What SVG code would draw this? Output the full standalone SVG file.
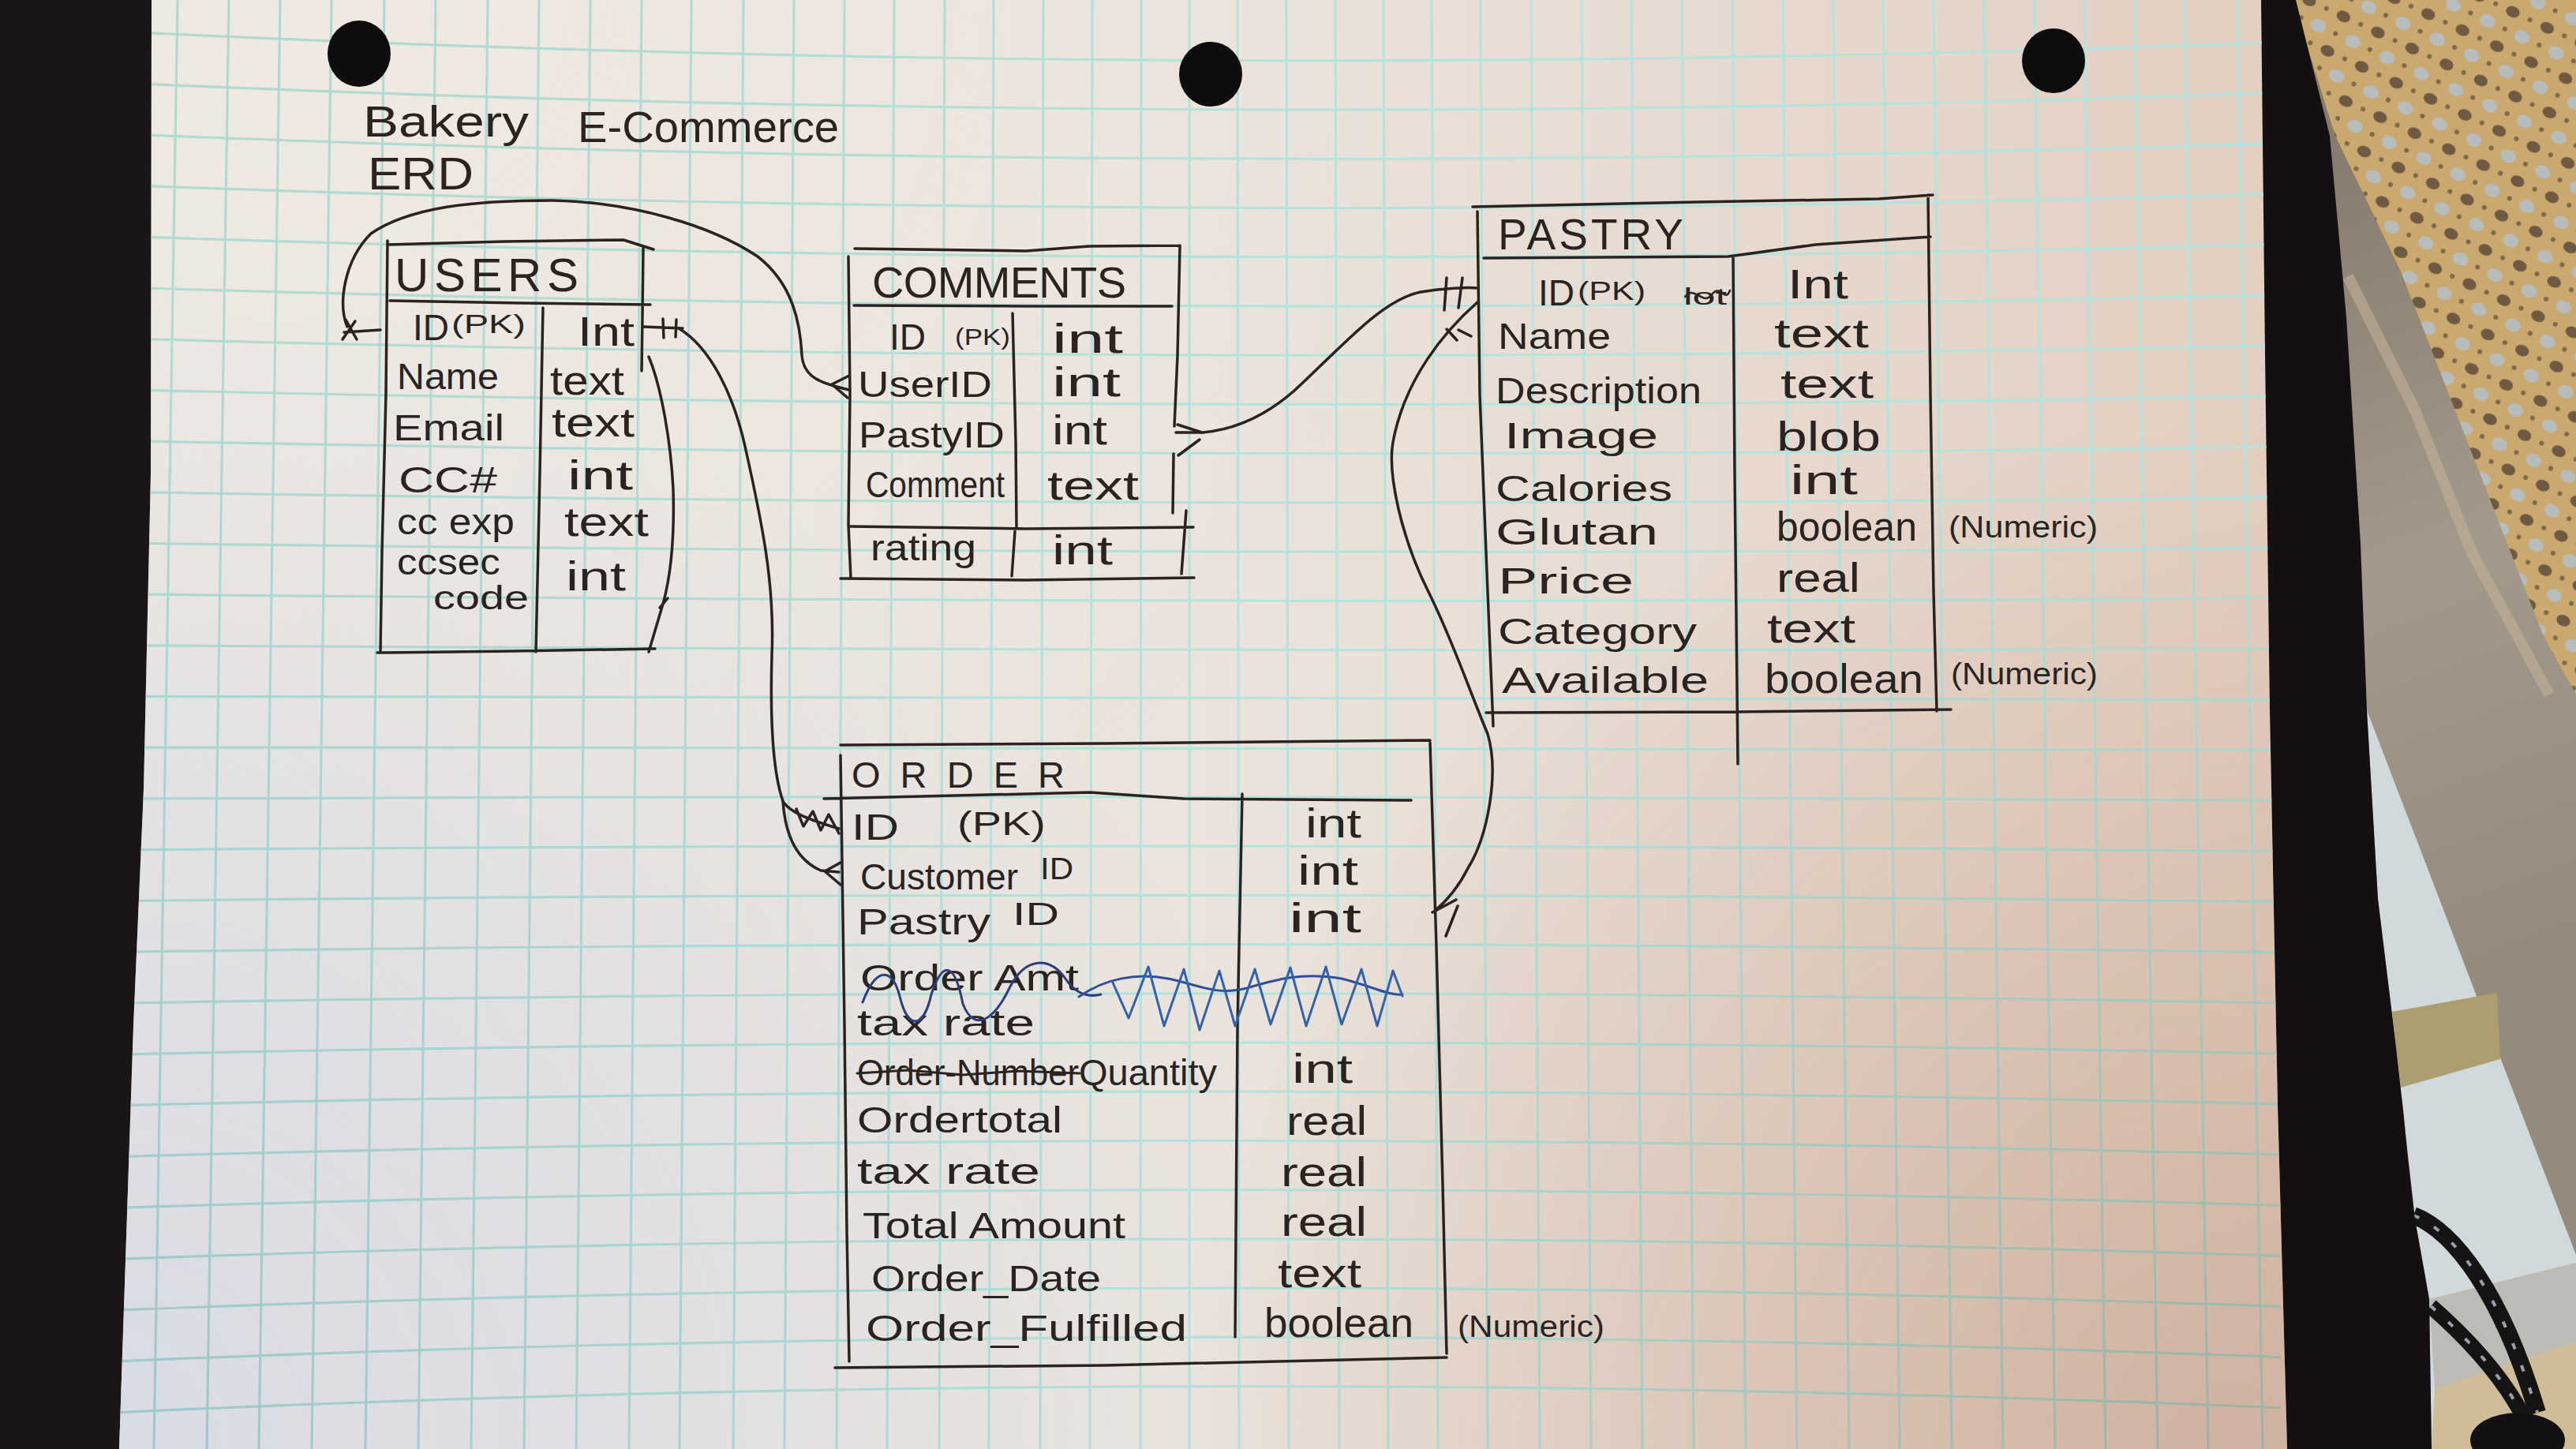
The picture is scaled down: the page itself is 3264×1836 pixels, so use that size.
<svg xmlns="http://www.w3.org/2000/svg" width="3264" height="1836" viewBox="0 0 3264 1836">
<defs>
<style>
.ink{fill:none;stroke:#2a231f;stroke-width:3.5;stroke-linecap:round;stroke-linejoin:round}
.t{font-family:"Liberation Sans",Arial,sans-serif;font-size:46px;fill:#2a231f}
.ty{font-family:"Liberation Sans",Arial,sans-serif;font-size:52px;fill:#2a231f}
.h{font-family:"Liberation Sans",Arial,sans-serif;font-size:58px;fill:#2a231f}
.n{font-family:"Liberation Sans",Arial,sans-serif;font-size:38px;fill:#2a231f}
.grid{fill:none;stroke:#b6e4dc;stroke-width:3.2}
.blue{fill:none;stroke-width:3;stroke-linecap:round;stroke-linejoin:round}
</style>
<linearGradient id="pg" x1="151" y1="0" x2="2898" y2="0" gradientUnits="userSpaceOnUse">
<stop offset="0" stop-color="#ebe7e3"/>
<stop offset="0.5" stop-color="#ebe4dd"/>
<stop offset="1" stop-color="#e3cfc1"/>
</linearGradient>
<radialGradient id="cool" cx="151" cy="1836" r="1500" gradientUnits="userSpaceOnUse">
<stop offset="0" stop-color="#d6d9e4" stop-opacity="0.85"/>
<stop offset="1" stop-color="#d6d9e4" stop-opacity="0"/>
</radialGradient>
<radialGradient id="warm" cx="2800" cy="1836" r="1300" gradientUnits="userSpaceOnUse">
<stop offset="0" stop-color="#c09a86" stop-opacity="0.55"/>
<stop offset="1" stop-color="#c09a86" stop-opacity="0"/>
</radialGradient>
<radialGradient id="bright" cx="400" cy="0" r="1400" gradientUnits="userSpaceOnUse">
<stop offset="0" stop-color="#f2ebe3" stop-opacity="0.6"/>
<stop offset="1" stop-color="#f2ebe3" stop-opacity="0"/>
</radialGradient>
<linearGradient id="metal" x1="2900" y1="200" x2="3264" y2="1200" gradientUnits="userSpaceOnUse">
<stop offset="0" stop-color="#867b6c"/>
<stop offset="0.5" stop-color="#a39a8b"/>
<stop offset="1" stop-color="#948b7d"/>
</linearGradient>
<pattern id="cane" width="48" height="48" patternUnits="userSpaceOnUse" patternTransform="rotate(25)">
<rect width="48" height="48" fill="#cba86e"/>
<ellipse cx="12" cy="12" rx="9" ry="7" fill="#6e5a43"/>
<ellipse cx="36" cy="36" rx="10" ry="8" fill="#b7bdbd"/>
<circle cx="36" cy="12" r="3" fill="#7d6849"/>
<circle cx="12" cy="36" r="3" fill="#7d6849"/>
</pattern>
<clipPath id="paperclip">
<path d="M192 0L2865 0L2870 450L2876 900L2886 1400L2898 1836L151 1836L169 1300L182 1000L191 600Z"/>
</clipPath>
</defs>

<g id="background">
<rect x="0" y="0" width="3264" height="1836" fill="#1a1516"/>
<rect x="2880" y="0" width="384" height="1836" fill="url(#metal)"/>
<path d="M2905 0L3264 0L3264 880L3222 804L3132 574L3042 344L2959 172Z" fill="url(#cane)"/>
<path d="M2975 350L3060 520L3132 700L3230 880" fill="none" stroke="#c2b59c" stroke-width="14" opacity="0.55"/>
<path d="M2999 900L3264 1590L3264 1836L3081 1836L3078 1646L3060 1545L3045 1407L3013 1139Z" fill="#d0d9db"/>
<path d="M3031 1282L3164 1258L3168 1342L3042 1378Z" fill="#ad9e70"/>
<path d="M3078 1646L3264 1600L3264 1700L3085 1760Z" fill="#bdbbb5"/>
<path d="M3085 1760L3264 1700L3264 1836L3081 1836Z" fill="#cfbd97"/>
<path d="M3058 1540C3110 1560 3170 1640 3215 1790" fill="none" stroke="#151313" stroke-width="22"/>
<path d="M3058 1540C3110 1560 3170 1640 3215 1790" fill="none" stroke="#9aa0a8" stroke-width="4" stroke-dasharray="8 22"/>
<path d="M3080 1655C3120 1690 3170 1740 3200 1800" fill="none" stroke="#151313" stroke-width="20"/>
<path d="M3080 1655C3120 1690 3170 1740 3200 1800" fill="none" stroke="#9aa0a8" stroke-width="4" stroke-dasharray="8 22"/>
<ellipse cx="3190" cy="1825" rx="60" ry="35" fill="#121011"/>
<path d="M2860 0L2909 0L2952 172L2973 402L2991 689L2999 900L3013 1139L3035 1318L3045 1407L3051 1467L3060 1545L3078 1646L3081 1836L2880 1836Z" fill="#141011"/>
</g>

<g id="paper">
<path d="M192 0L2865 0L2870 450L2876 900L2886 1400L2898 1836L151 1836L169 1300L182 1000L191 600Z" fill="url(#pg)"/>
<g clip-path="url(#paperclip)">
<rect x="140" y="0" width="2770" height="1836" fill="url(#bright)"/>
<rect x="140" y="0" width="2770" height="1836" fill="url(#cool)"/>
<rect x="140" y="0" width="2770" height="1836" fill="url(#warm)"/>
<g style="mix-blend-mode:multiply">
<path class="grid" d="M225 0L195 1836M290 0L262 1836M355 0L328 1836M420 0L395 1836M487 0L463 1836M552 0L530 1836M618 0L597 1836M683 0L664 1836M748 0L730 1836M813 0L797 1836M876 0L861 1836M942 0L929 1836M1006 0L994 1836M1070 0L1060 1836M1133 0L1124 1836M1197 0L1190 1836M1259 0L1253 1836M1322 0L1318 1836M1384 0L1381 1836M1446 0L1445 1836M1507 0L1507 1836M1568 0L1570 1836M1630 0L1633 1836M1692 0L1697 1836M1753 0L1759 1836M1814 0L1822 1836M1876 0L1885 1836M1940 0L1951 1836M2004 0L2016 1836M2067 0L2081 1836M2131 0L2146 1836M2195 0L2212 1836M2259 0L2277 1836M2323 0L2343 1836M2386 0L2407 1836M2450 0L2473 1836M2514 0L2538 1836M2578 0L2604 1836M2641 0L2668 1836M2705 0L2734 1836M2768 0L2798 1836M2835 0L2867 1836"/>
<path class="grid" d="M150 40Q1520 106.5 2890 53M150 104.8Q1520 166.5 2890 117.1M150 169.6Q1520 226.5 2890 181.2M150 234.4Q1520 286.5 2890 245.3M150 299.2Q1520 346.5 2890 309.4M150 364Q1520 406.5 2890 373.5M150 428.8Q1520 466.5 2890 437.6M150 493.6Q1520 526.5 2890 501.7M150 558.4Q1520 586.5 2890 565.8M150 623.2Q1520 646.5 2890 629.9M150 688Q1520 706.5 2890 694M150 752.8Q1520 766.5 2890 758.1M150 817.6Q1520 826.5 2890 822.2M150 882.4Q1520 886.5 2890 886.3M150 947.2Q1520 946.5 2890 950.4M150 1012Q1520 1006.5 2890 1014.5M150 1076.8Q1520 1066.5 2890 1078.6M150 1141.6Q1520 1126.5 2890 1142.7M150 1206.4Q1520 1186.5 2890 1206.8M150 1271.2Q1520 1246.5 2890 1270.9M150 1336Q1520 1306.5 2890 1335M150 1400.8Q1520 1366.5 2890 1399.1M150 1465.6Q1520 1426.5 2890 1463.2M150 1530.4Q1520 1486.5 2890 1527.3M150 1595.2Q1520 1546.5 2890 1591.4M150 1660Q1520 1606.5 2890 1655.5M150 1724.8Q1520 1666.5 2890 1719.6M150 1789.6Q1520 1726.5 2890 1783.7"/>
</g>
</g>
<ellipse cx="455" cy="68" rx="40" ry="42" fill="#0e0c0c"/>
<ellipse cx="1534" cy="94" rx="40" ry="41" fill="#0e0c0c"/>
<ellipse cx="2602" cy="77" rx="40" ry="41" fill="#0e0c0c"/>
</g>

<g id="title">
<text class="t" x="460" y="173" textLength="210" lengthAdjust="spacingAndGlyphs" style="font-size:56px">Bakery</text>
<text class="t" x="732" y="180" textLength="331" lengthAdjust="spacingAndGlyphs" style="font-size:56px">E-Commerce</text>
<text class="t" x="466" y="240" textLength="134" lengthAdjust="spacingAndGlyphs" style="font-size:58px">ERD</text>
</g>

<g id="users">
<path class="ink" d="M491 310L640 306L790 304L828 316M491 305L489 500L484 700L482 826M494 381L660 384L824 386M815 314L814 400L813 470M822 452C838 490 850 560 853 620C855 690 848 740 838 772L822 826M836 770L846 758M688 390L684 600L679 826M478 827L650 825L830 822"/>
<text class="h" x="500" y="369" textLength="233" style="font-size:60px">USERS</text>
<text class="t" x="523" y="431">ID</text>
<text class="t" x="572" y="422" textLength="94" lengthAdjust="spacingAndGlyphs" style="font-size:34px">(PK)</text>
<text class="ty" x="732" y="438" textLength="72" lengthAdjust="spacingAndGlyphs">Int</text>
<text class="t" x="503" y="493" textLength="129" lengthAdjust="spacingAndGlyphs">Name</text>
<text class="ty" x="697" y="500" textLength="94" lengthAdjust="spacingAndGlyphs">text</text>
<text class="t" x="498" y="558" textLength="141" lengthAdjust="spacingAndGlyphs">Email</text>
<text class="ty" x="699" y="553" textLength="105" lengthAdjust="spacingAndGlyphs">text</text>
<text class="t" x="505" y="624" textLength="125" lengthAdjust="spacingAndGlyphs">CC#</text>
<text class="ty" x="719" y="620" textLength="83" lengthAdjust="spacingAndGlyphs">int</text>
<text class="t" x="503" y="677" textLength="149" lengthAdjust="spacingAndGlyphs">cc exp</text>
<text class="ty" x="715" y="679" textLength="107" lengthAdjust="spacingAndGlyphs">text</text>
<text class="t" x="503" y="728" textLength="131" lengthAdjust="spacingAndGlyphs">ccsec</text>
<text class="t" x="549" y="772" textLength="121" lengthAdjust="spacingAndGlyphs" style="font-size:42px">code</text>
<text class="ty" x="717" y="748" textLength="76" lengthAdjust="spacingAndGlyphs">int</text>
</g>

<g id="comments">
<path class="ink" d="M1083 315L1300 318L1380 312L1495 311M1075 325L1077 500L1075 665L1078 733M1082 387L1300 388L1485 388M1283 397L1287 560L1288 667M1286 673L1282 730M1077 667L1300 670L1512 668M1065 733L1300 735L1513 732M1495 311L1492 450L1488 540M1487 575L1486 650M1503 647L1497 727"/>
<text class="h" x="1105" y="377" textLength="322" style="font-size:56px">COMMENTS</text>
<text class="t" x="1127" y="443">ID</text>
<text class="t" x="1210" y="437" textLength="70" lengthAdjust="spacingAndGlyphs" style="font-size:30px">(PK)</text>
<text class="ty" x="1333" y="447" textLength="90" lengthAdjust="spacingAndGlyphs">int</text>
<text class="t" x="1087" y="503" textLength="170" lengthAdjust="spacingAndGlyphs">UserID</text>
<text class="ty" x="1333" y="502" textLength="87" lengthAdjust="spacingAndGlyphs">int</text>
<text class="t" x="1088" y="567" textLength="185" lengthAdjust="spacingAndGlyphs">PastyID</text>
<text class="ty" x="1333" y="563" textLength="70" lengthAdjust="spacingAndGlyphs">int</text>
<text class="t" x="1097" y="630" textLength="176" lengthAdjust="spacingAndGlyphs">Comment</text>
<text class="ty" x="1327" y="633" textLength="116" lengthAdjust="spacingAndGlyphs">text</text>
<text class="t" x="1103" y="710" textLength="134" lengthAdjust="spacingAndGlyphs">rating</text>
<text class="ty" x="1333" y="715" textLength="77" lengthAdjust="spacingAndGlyphs">int</text>
</g>

<g id="pastry">
<path class="ink" d="M1866 262L2150 256L2380 252L2449 247M1872 268L1875 500L1885 750L1892 920M1880 327L2190 325L2300 310L2446 300M2443 247L2446 500L2450 750L2454 901M2196 327L2198 600L2202 968M1883 903L2200 902L2472 899"/>
<text class="h" x="1898" y="316" textLength="235" style="font-size:55px">PASTRY</text>
<text class="t" x="1949" y="387">ID</text>
<text class="t" x="1999" y="380" textLength="86" lengthAdjust="spacingAndGlyphs" style="font-size:34px">(PK)</text>
<text class="t" x="2133" y="386" textLength="55" lengthAdjust="spacingAndGlyphs" style="font-size:30px">lot</text>
<path class="ink" d="M2135 376C2148 360 2158 390 2170 372C2180 360 2186 384 2192 368" style="stroke-width:2.5"/>
<text class="ty" x="2265" y="378" textLength="77" lengthAdjust="spacingAndGlyphs">Int</text>
<text class="t" x="1898" y="442" textLength="143" lengthAdjust="spacingAndGlyphs">Name</text>
<text class="ty" x="2248" y="440" textLength="120" lengthAdjust="spacingAndGlyphs">text</text>
<text class="t" x="1895" y="511" textLength="261" lengthAdjust="spacingAndGlyphs">Description</text>
<text class="ty" x="2256" y="504" textLength="118" lengthAdjust="spacingAndGlyphs">text</text>
<text class="t" x="1906" y="568" textLength="195" lengthAdjust="spacingAndGlyphs">Image</text>
<text class="ty" x="2251" y="571" textLength="132" lengthAdjust="spacingAndGlyphs">blob</text>
<text class="t" x="1895" y="635" textLength="224" lengthAdjust="spacingAndGlyphs">Calories</text>
<text class="ty" x="2268" y="626" textLength="86" lengthAdjust="spacingAndGlyphs">int</text>
<text class="t" x="1895" y="690" textLength="206" lengthAdjust="spacingAndGlyphs">Glutan</text>
<text class="ty" x="2251" y="685" textLength="178" lengthAdjust="spacingAndGlyphs">boolean</text>
<text class="n" x="2469" y="681" textLength="189" lengthAdjust="spacingAndGlyphs">(Numeric)</text>
<text class="t" x="1898" y="752" textLength="172" lengthAdjust="spacingAndGlyphs">Price</text>
<text class="ty" x="2251" y="750" textLength="106" lengthAdjust="spacingAndGlyphs">real</text>
<text class="t" x="1898" y="816" textLength="252" lengthAdjust="spacingAndGlyphs">Category</text>
<text class="ty" x="2239" y="814" textLength="112" lengthAdjust="spacingAndGlyphs">text</text>
<text class="t" x="1903" y="878" textLength="262" lengthAdjust="spacingAndGlyphs">Available</text>
<text class="ty" x="2236" y="878" textLength="201" lengthAdjust="spacingAndGlyphs">boolean</text>
<text class="n" x="2472" y="867" textLength="186" lengthAdjust="spacingAndGlyphs">(Numeric)</text>
</g>

<g id="order">
<path class="ink" d="M1065 944L1400 942L1812 938M1065 957L1070 1300L1073 1560L1076 1725M1044 1012L1381 1004L1500 1012L1788 1014M1812 941L1820 1200L1828 1500L1833 1715M1574 1006L1568 1300L1565 1694M1058 1733L1400 1730L1833 1720"/>
<text class="h" x="1079" y="998" textLength="270" style="font-size:47px">ORDER</text>
<text class="t" x="1079" y="1064" textLength="60" lengthAdjust="spacingAndGlyphs" style="font-size:46px">ID</text>
<text class="t" x="1213" y="1058" textLength="112" lengthAdjust="spacingAndGlyphs" style="font-size:42px">(PK)</text>
<text class="ty" x="1654" y="1061" textLength="71" lengthAdjust="spacingAndGlyphs">int</text>
<text class="t" x="1090" y="1127" textLength="200" lengthAdjust="spacingAndGlyphs">Customer</text>
<text class="t" x="1318" y="1114" textLength="42" lengthAdjust="spacingAndGlyphs" style="font-size:38px">ID</text>
<text class="ty" x="1644" y="1121" textLength="77" lengthAdjust="spacingAndGlyphs">int</text>
<text class="t" x="1086" y="1184" textLength="169" lengthAdjust="spacingAndGlyphs">Pastry</text>
<text class="t" x="1283" y="1172" textLength="59" lengthAdjust="spacingAndGlyphs" style="font-size:40px">ID</text>
<text class="ty" x="1633" y="1181" textLength="92" lengthAdjust="spacingAndGlyphs">int</text>
<text class="t" x="1090" y="1255" textLength="277" lengthAdjust="spacingAndGlyphs">Order Amt</text>
<text class="t" x="1086" y="1312" textLength="225" lengthAdjust="spacingAndGlyphs">tax rate</text>
<text class="t" x="1086" y="1375" textLength="281" lengthAdjust="spacingAndGlyphs">Order-Number</text>
<text class="t" x="1367" y="1375" textLength="175" lengthAdjust="spacingAndGlyphs">Quantity</text>
<path class="ink" d="M1086 1360L1150 1356L1220 1362L1290 1357L1368 1360" style="stroke-width:3"/>
<text class="ty" x="1637" y="1372" textLength="77" lengthAdjust="spacingAndGlyphs">int</text>
<text class="t" x="1086" y="1435" textLength="260" lengthAdjust="spacingAndGlyphs">Ordertotal</text>
<text class="ty" x="1630" y="1438" textLength="102" lengthAdjust="spacingAndGlyphs">real</text>
<text class="t" x="1086" y="1500" textLength="232" lengthAdjust="spacingAndGlyphs">tax rate</text>
<text class="ty" x="1623" y="1503" textLength="109" lengthAdjust="spacingAndGlyphs">real</text>
<text class="t" x="1093" y="1569" textLength="333" lengthAdjust="spacingAndGlyphs">Total Amount</text>
<text class="ty" x="1623" y="1566" textLength="109" lengthAdjust="spacingAndGlyphs">real</text>
<text class="t" x="1104" y="1636" textLength="291" lengthAdjust="spacingAndGlyphs">Order_Date</text>
<text class="ty" x="1619" y="1631" textLength="106" lengthAdjust="spacingAndGlyphs">text</text>
<text class="t" x="1097" y="1699" textLength="407" lengthAdjust="spacingAndGlyphs">Order_Fulfilled</text>
<text class="ty" x="1602" y="1694" textLength="189" lengthAdjust="spacingAndGlyphs">boolean</text>
<text class="n" x="1847" y="1694" textLength="186" lengthAdjust="spacingAndGlyphs">(Numeric)</text>
<path class="blue" stroke="#2b3d7a" d="M1093 1270C1110 1225 1130 1225 1140 1262C1150 1305 1170 1305 1180 1260C1195 1215 1210 1220 1220 1272C1235 1310 1260 1292 1280 1250C1300 1212 1330 1212 1350 1240C1360 1255 1375 1265 1395 1260"/>
<path class="blue" stroke="#2f4f9a" d="M1367 1263C1400 1240 1440 1232 1480 1240C1520 1248 1540 1262 1580 1252C1620 1240 1650 1232 1700 1240C1740 1250 1760 1262 1777 1260"/>
<path class="blue" stroke="#3262aa" d="M1410 1245L1430 1290L1455 1225L1475 1300L1500 1228L1520 1305L1545 1230L1565 1300L1590 1228L1610 1298L1635 1226L1655 1300L1680 1225L1700 1298L1725 1228L1745 1300L1765 1230L1777 1262"/>
</g>

<g id="connectors">
<path class="ink" d="M482 418L436 421M438 405L452 430M450 407L434 430"/>
<path class="ink" d="M440 414C428 385 436 330 470 296C520 262 600 254 700 254C800 256 900 285 960 325C1005 360 1014 410 1016 450C1018 478 1040 486 1076 494M1054 487L1076 476M1054 487L1074 504"/>
<path class="ink" d="M815 414L865 416M840 404L841 428M857 405L856 427"/>
<path class="ink" d="M860 416C900 440 930 500 945 570C965 660 982 740 978 830C976 900 978 975 992 1015C1000 1030 1030 1040 1063 1050M1009 1025L1018 1047L1030 1028L1040 1052L1050 1032L1063 1056"/>
<path class="ink" d="M992 1015C995 1060 1010 1090 1040 1103L1063 1105M1045 1104L1065 1093M1045 1104L1065 1121"/>
<path class="ink" d="M1492 538L1523 548M1493 577L1520 557M1490 548L1523 548"/>
<path class="ink" d="M1523 548C1560 545 1600 530 1640 495C1700 440 1750 380 1800 370C1830 365 1860 364 1872 365M1833 352L1830 393M1853 352L1848 390"/>
<path class="ink" d="M1872 383C1830 420 1780 480 1765 560C1758 600 1775 680 1810 750C1840 810 1860 870 1885 930C1900 980 1885 1060 1860 1100C1850 1120 1835 1140 1817 1155M1833 417L1846 431M1848 418L1864 426M1845 1140L1815 1156M1847 1148L1832 1186"/>
</g>
</svg>
